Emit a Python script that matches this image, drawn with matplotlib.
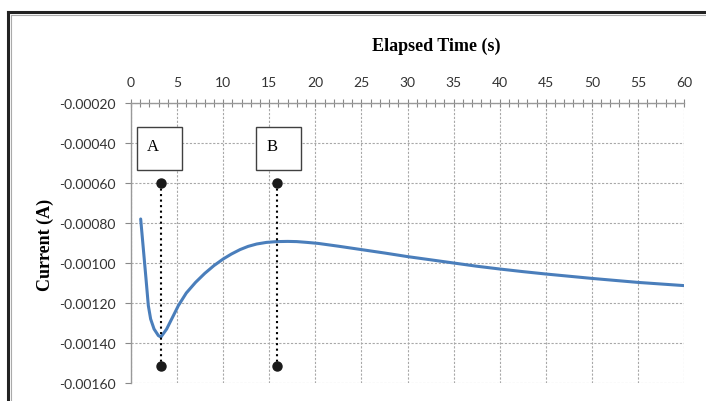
import matplotlib.pyplot as plt
from matplotlib.lines import Line2D
from matplotlib.patches import Rectangle
from matplotlib.ticker import MultipleLocator, FormatStrFormatter

plt.rcParams['axes.unicode_minus'] = False

# curve
time_s = [1.05, 1.34, 1.63, 1.88, 2.13, 2.5, 2.97, 3.25, 3.87, 4.6, 5.14, 6.0,
          7.0, 8.0, 9.0, 10.0, 10.9, 11.83, 12.7, 13.64, 14.7, 15.8, 17.0,
          17.98, 19.1, 20.3, 22.5, 25, 27.5, 30, 32.5, 35, 37.5, 40, 42.5, 45,
          47.5, 50, 52.5, 55, 57.5, 60]
current = [-0.00078, -0.00093, -0.00108, -0.001213, -0.00128, -0.00133, -0.001363,
           -0.00137, -0.00133, -0.001263, -0.001213, -0.00115, -0.001097, -0.001052,
           -0.001013, -0.00098, -0.000955, -0.000933, -0.000917, -0.000905,
           -0.000897, -0.000893, -0.000892, -0.000893, -0.000897, -0.000902, -0.000916,
           -0.000933, -0.00095, -0.000968, -0.000984, -0.001, -0.001016, -0.00103,
           -0.001043, -0.001055, -0.001066, -0.001077, -0.001087, -0.001097,
           -0.001105, -0.001113]

# markers A and B
mark_labels = ['A', 'B']
mark_t = [3.25, 15.85]
mark_top = -0.0006
mark_bottom = -0.001515
box_left = [0.65, 13.55]
box_width = 4.85
box_top = -0.00032
box_bottom = -0.000535

fig = plt.figure(figsize=(7.06, 4.02), dpi=100)
ax = fig.add_axes([131 / 706, 1 - 384 / 402, 553 / 706, 280 / 402])

ax.plot(time_s, current, color='#4a7ebb', lw=2.2, solid_joinstyle='round',
        solid_capstyle='round', zorder=4)

for lab, t, bl in zip(mark_labels, mark_t, box_left):
    ax.plot([t, t], [mark_top, mark_bottom], color='black', ls=':', lw=1.5, zorder=5)
    ax.plot([t, t], [mark_top, mark_bottom], 'o', color='#1a1a1a', ms=6.5, zorder=6)
    ax.add_patch(Rectangle((bl, box_bottom), box_width, box_top - box_bottom,
                           facecolor='white', edgecolor='#404040', lw=1.0, zorder=5))
    ax.text(bl + 1.75, (box_top + box_bottom) / 2 + 0.00001, lab, ha='center', va='center',
            family='Liberation Serif', fontsize=12, zorder=6)

ax.set_xlim(0, 60)
ax.set_ylim(-0.0016, -0.0002)
ax.xaxis.tick_top()
ax.xaxis.set_major_locator(MultipleLocator(5))
ax.xaxis.set_minor_locator(MultipleLocator(1))
ax.yaxis.set_major_locator(MultipleLocator(0.0002))
ax.yaxis.set_major_formatter(FormatStrFormatter('%.5f'))

ax.tick_params(axis='x', which='both', direction='inout', length=6, width=0.8,
               color='#888888', pad=8, labelsize=10, labelcolor='#333333')
ax.tick_params(axis='y', which='major', direction='out', length=4, width=0.8,
               color='#888888', pad=7, labelsize=10, labelcolor='#333333')
for lbl in ax.get_xticklabels() + ax.get_yticklabels():
    lbl.set_family('Lato')

ax.grid(True, which='major', color='#a8a8a8', ls=(0, (2, 1.5)), lw=0.8)
for side in ['right', 'bottom']:
    ax.spines[side].set_visible(False)
for side in ['left', 'top']:
    ax.spines[side].set_color('#999999')
    ax.spines[side].set_linewidth(1.0)

fig.text(436 / 706, 1 - 46 / 402, 'Elapsed Time (s)', ha='center', va='center',
         family='Liberation Serif', fontweight='bold', fontsize=13)
fig.text(45 / 706, 1 - 245 / 402, 'Current (A)', ha='center', va='center', rotation=90,
         family='Liberation Serif', fontweight='bold', fontsize=13)

# the window frame at top and left
fig.add_artist(Line2D([8 / 706, 1], [1 - 13 / 402, 1 - 13 / 402], color='#222222', lw=2.2,
                      transform=fig.transFigure, solid_capstyle='projecting'))
fig.add_artist(Line2D([8 / 706, 8 / 706], [1 - 13 / 402, 0], color='#222222', lw=2.2,
                      transform=fig.transFigure, solid_capstyle='projecting'))
fig.add_artist(Line2D([10.5 / 706, 1], [1 - 15.5 / 402, 1 - 15.5 / 402], color='#aaaaaa',
                      lw=0.8, transform=fig.transFigure))
fig.add_artist(Line2D([10.5 / 706, 10.5 / 706], [1 - 15.5 / 402, 0], color='#aaaaaa',
                      lw=0.8, transform=fig.transFigure))

fig.savefig('out.png', dpi=100)
